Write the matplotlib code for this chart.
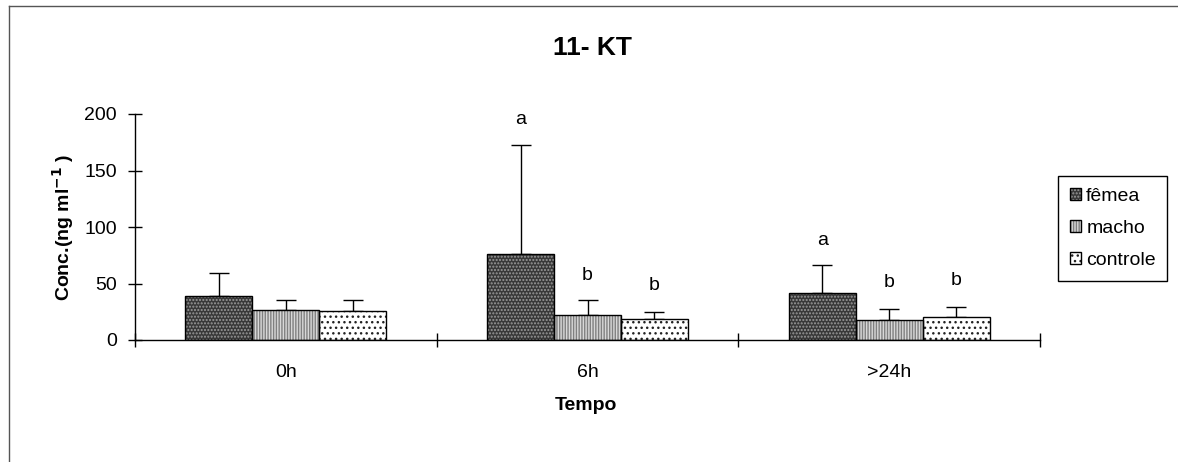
import numpy as np
import matplotlib
matplotlib.use("Agg")
import matplotlib.pyplot as plt
from matplotlib.lines import Line2D

plt.rcParams['font.family'] = ['Liberation Sans', 'DejaVu Sans']
plt.rcParams['hatch.linewidth'] = 1.0

# ---- data ----
tempos = ['0h', '6h', '>24h']
series = ['fêmea', 'macho', 'controle']
femea = [39, 76, 42]
femea_sd = [20, 97, 24]
macho = [26.5, 22, 18]
macho_sd = [8.5, 13, 9.5]
controle = [25.5, 19, 20.7]
controle_sd = [9.5, 6, 8.3]
# significance letters: (group index, series index, letter, height)
letras = [(1, 0, 'a', 195), (1, 1, 'b', 57), (1, 2, 'b', 48),
          (2, 0, 'a', 88), (2, 1, 'b', 51), (2, 2, 'b', 53)]

W, H = 1178, 462
fig = plt.figure(figsize=(W / 100, H / 100), dpi=100)
ax = fig.add_axes([135 / W, 1 - 340 / H, 905 / W, 226 / H])

x = np.arange(len(tempos))
bw = 0.222
estilos = [
    dict(face='#383838', hatch='.....', hcol='#9a9a9a'),
    dict(face='#d8d8d8', hatch='||||||', hcol='#808080'),
    dict(face='white', hatch='...', hcol='#222222'),
]
valores = [femea, macho, controle]
desvios = [femea_sd, macho_sd, controle_sd]

handles = []
for i, (vals, sds, st) in enumerate(zip(valores, desvios, estilos)):
    pos = x + (i - 1) * bw
    b1 = ax.bar(pos, vals, bw, color=st['face'], hatch=st['hatch'],
                edgecolor=st['hcol'], linewidth=0, zorder=2)
    b2 = ax.bar(pos, vals, bw, fill=False, edgecolor='black',
                linewidth=1.0, zorder=3)
    ax.errorbar(pos, vals, yerr=[np.zeros(len(sds)), sds], fmt='none',
                ecolor='black', elinewidth=1, capsize=7.5, capthick=1,
                zorder=1)
    handles.append((b1.patches[0], b2.patches[0]))

for g, s, letra, h in letras:
    ax.text(x[g] + (s - 1) * bw, h, letra, ha='center', va='center',
            fontsize=14)

ax.set_xlim(-0.5, 2.5)
ax.set_ylim(0, 200)
ax.set_yticks([0, 50, 100, 150, 200])
ax.tick_params(axis='y', direction='inout', length=10, width=1,
               labelsize=14, pad=8)
ax.set_xticks(x)
ax.set_xticklabels(tempos)
ax.tick_params(axis='x', which='major', length=0, labelsize=14, pad=17)
ax.set_xticks([-0.5, 0.5, 1.5, 2.5], minor=True)
ax.tick_params(axis='x', which='minor', direction='inout', length=10,
               width=1)
for s in ['top', 'right']:
    ax.spines[s].set_visible(False)
for s in ['left', 'bottom']:
    ax.spines[s].set_linewidth(1)

fig.text(592 / W, 1 - 48 / H, '11- KT', ha='center', va='center',
         fontsize=19, fontweight='bold')
fig.text(63 / W, 1 - 227 / H, r'Conc.(ng ml$^{\mathbf{-1}}$ )',
         rotation=90, ha='center', va='center', fontsize=14,
         fontweight='bold')
fig.text(586 / W, 1 - 405 / H, 'Tempo', ha='center', va='center',
         fontsize=14, fontweight='bold')

leg = ax.legend(handles, series, loc='upper left',
                bbox_to_anchor=(1058 / W, 1 - 176 / H),
                bbox_transform=fig.transFigure, borderaxespad=0,
                fontsize=14, handlelength=0.6, handleheight=0.6,
                handletextpad=0.25, labelspacing=0.78, borderpad=0.6,
                fancybox=False, framealpha=1, edgecolor='black')
leg.get_frame().set_linewidth(1)

# page border (left and top only)
fig.add_artist(Line2D([8.5 / W, 8.5 / W], [0, 1 - 6 / H],
                      transform=fig.transFigure, color='#555555', lw=1))
fig.add_artist(Line2D([8.5 / W, 1], [1 - 6 / H, 1 - 6 / H],
                      transform=fig.transFigure, color='#555555', lw=1))

fig.savefig('out.png', dpi=100)
